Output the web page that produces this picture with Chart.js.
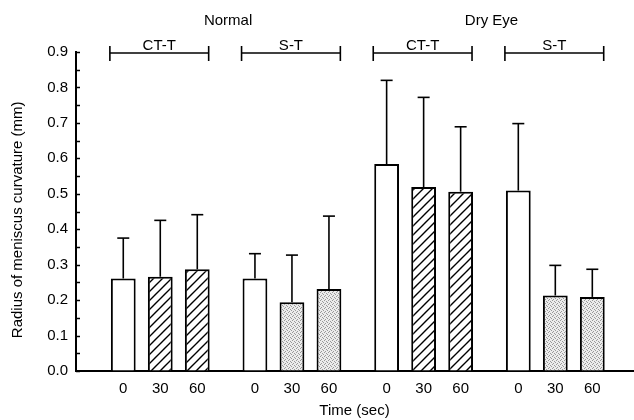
<!DOCTYPE html>
<html>
<head>
<meta charset="utf-8">
<script src="https://cdn.jsdelivr.net/npm/chart.js@4/dist/chart.umd.min.js"></script>
<style>
  html, body { margin: 0; padding: 0; background: #fff; }
</style>
</head>
<body>
<canvas id="chart" width="634" height="420"></canvas>
<script>
const groups = [0, 1, 2, 3];
const groupTags = [`CT-T`, `S-T`, `CT-T`, `S-T`];
const conditions = [`Normal`, `Dry Eye`];
const times = [`0`, `30`, `60`];

// mean radius (mm) per group, one array per time point
const mean0 = [0.261, 0.261, 0.584, 0.509];
const mean30 = [0.266, 0.194, 0.519, 0.213];
const mean60 = [0.287, 0.231, 0.506, 0.209];
// upper SD
const sd0 = [0.114, 0.070, 0.236, 0.189];
const sd30 = [0.159, 0.133, 0.253, 0.085];
const sd60 = [0.154, 0.206, 0.183, 0.078];

const FONT = `"Liberation Sans", Arial, Helvetica, sans-serif`;

const makeHatch = () => {
  const c = document.createElement(`canvas`);
  c.width = 9;
  c.height = 9;
  const g = c.getContext(`2d`);
  g.fillStyle = `#fff`;
  g.fillRect(0, 0, 9, 9);
  g.strokeStyle = `#000`;
  g.lineWidth = 1.4;
  g.beginPath();
  g.moveTo(-1, 10);
  g.lineTo(10, -1);
  g.moveTo(-1, 1);
  g.lineTo(1, -1);
  g.moveTo(8, 10);
  g.lineTo(10, 8);
  g.stroke();
  return g.createPattern(c, `repeat`);
};

const makeStipple = () => {
  const c = document.createElement(`canvas`);
  c.width = 4;
  c.height = 4;
  const g = c.getContext(`2d`);
  g.fillStyle = `#ececec`;
  g.fillRect(0, 0, 4, 4);
  g.fillStyle = `#999`;
  [[0, 0], [2, 1], [1, 3], [3, 2]].forEach(([x, y]) => g.fillRect(x, y, 1, 1));
  return g.createPattern(c, `repeat`);
};

const hatch = makeHatch();
const stipple = makeStipple();
const treatedFill = groupTags.map((t) => (t === `CT-T` ? hatch : stipple));

const toPoints = (arr) => arr.map((v, i) => ({x: groups[i], y: v}));

const barStyle = {
  borderColor: `#000`,
  borderWidth: 2,
  barPercentage: 0.67,
  categoryPercentage: 0.843
};

const annotate = {
  id: `annotate`,
  afterDatasetsDraw(chart) {
    const {ctx, chartArea, scales: {y}} = chart;
    const line = (x1, y1, x2, y2) => {
      ctx.beginPath();
      ctx.moveTo(x1, y1);
      ctx.lineTo(x2, y2);
      ctx.stroke();
    };
    ctx.save();
    ctx.strokeStyle = `#000`;
    ctx.fillStyle = `#000`;

    // small inward ticks on the y axis
    ctx.lineWidth = 1.5;
    y.ticks.forEach((t) => {
      const py = Math.round(y.getPixelForValue(t.value)) + 0.5;
      line(chartArea.left, py, chartArea.left + 4, py);
    });

    // error bars + time labels under each bar
    ctx.font = `15px ${FONT}`;
    ctx.textAlign = `center`;
    ctx.textBaseline = `middle`;
    chart.data.datasets.forEach((ds, di) => {
      const meta = chart.getDatasetMeta(di);
      meta.data.forEach((bar, i) => {
        const top = y.getPixelForValue(ds.data[i].y + ds.sd[i]);
        ctx.lineWidth = 1.6;
        line(bar.x, bar.y, bar.x, top);
        line(bar.x - 6, top, bar.x + 6, top);
        ctx.fillText(times[di], bar.x, chartArea.bottom + 18);
      });
    });

    // brackets over each treatment group
    const first = chart.getDatasetMeta(0).data;
    const mid = chart.getDatasetMeta(1).data;
    const last = chart.getDatasetMeta(2).data;
    const by = chartArea.top + 1;
    ctx.textBaseline = `alphabetic`;
    groupTags.forEach((tag, g) => {
      const x1 = first[g].x - first[g].width / 2 - 1;
      const x2 = last[g].x + last[g].width / 2 - 1;
      ctx.lineWidth = 1.6;
      line(x1, by, x2, by);
      line(x1, by - 7, x1, by + 8);
      line(x2, by - 7, x2, by + 8);
      ctx.fillText(tag, (x1 + x2) / 2, by - 3);
    });

    conditions.forEach((name, c) => {
      const cx = (mid[2 * c].x + mid[2 * c + 1].x) / 2 + 2;
      ctx.fillText(name, cx, by - 28);
    });
    ctx.restore();
  }
};

// eslint-disable-next-line no-unused-vars
const chart = new Chart(document.getElementById(`chart`), {
  type: `bar`,
  data: {
    datasets: [
      {label: times[0], data: toPoints(mean0), sd: sd0, backgroundColor: `#fff`, ...barStyle},
      {label: times[1], data: toPoints(mean30), sd: sd30, backgroundColor: treatedFill, ...barStyle},
      {label: times[2], data: toPoints(mean60), sd: sd60, backgroundColor: treatedFill, ...barStyle}
    ]
  },
  options: {
    responsive: false,
    animation: false,
    devicePixelRatio: 1,
    layout: {padding: {top: 52, right: 1, left: 0, bottom: 0}},
    plugins: {
      legend: {display: false},
      tooltip: {enabled: false}
    },
    scales: {
      x: {
        type: `linear`,
        bounds: `data`,
        offset: false,
        min: -0.64,
        max: 3.59,
        afterBuildTicks: (scale) => {
          scale.ticks = groups.map((g) => ({value: g}));
        },
        afterFit: (scale) => {
          scale.height = 49;
        },
        ticks: {display: false},
        grid: {display: true, offset: false, drawOnChartArea: false, drawTicks: false},
        border: {color: `#000`, width: 2},
        title: {
          display: true,
          text: `Time (sec)`,
          color: `#000`,
          font: {family: FONT, size: 15},
          padding: {top: 0, bottom: 0}
        }
      },
      y: {
        min: 0,
        max: 0.9,
        afterFit: (scale) => {
          scale.width = 76;
        },
        ticks: {
          stepSize: 0.05,
          autoSkip: false,
          padding: 8,
          color: `#000`,
          font: {family: FONT, size: 15},
          callback: (value) => {
            const v = Math.round(value * 100);
            return v % 10 === 0 ? (v / 100).toFixed(1) : ``;
          }
        },
        grid: {display: true, drawOnChartArea: false, drawTicks: false},
        border: {color: `#000`, width: 2},
        title: {
          display: true,
          text: `Radius of meniscus curvature (mm)    `,
          color: `#000`,
          font: {family: FONT, size: 15},
          padding: {top: 9, bottom: 0}
        }
      }
    }
  },
  plugins: [annotate]
});
</script>
</body>
</html>
